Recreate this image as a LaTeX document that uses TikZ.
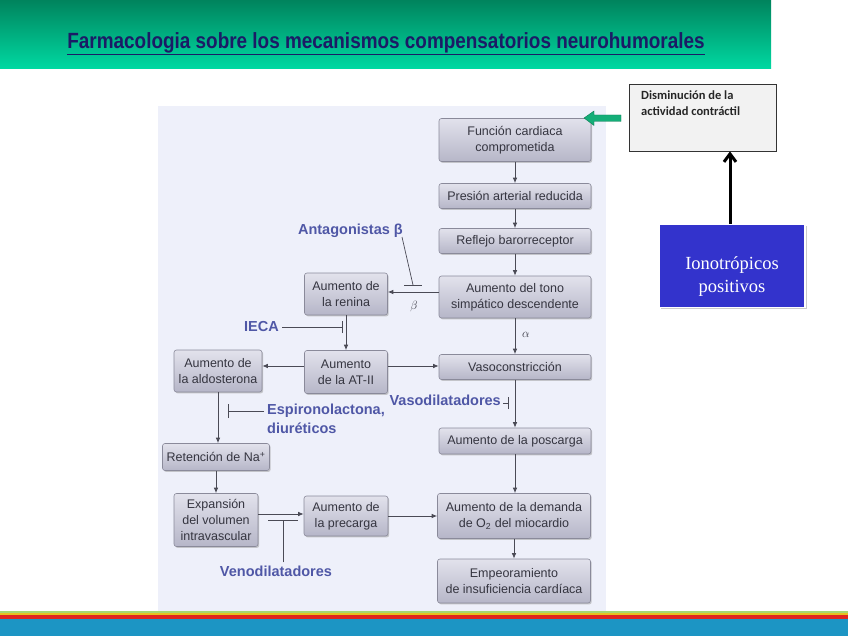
\documentclass[tikz,border=0pt]{standalone}
\usepackage{fontspec}
\setmainfont{Liberation Sans}
\newfontfamily\carl{Carlito}
\newfontfamily\tnr{Liberation Serif}
\usetikzlibrary{arrows.meta,shadows,calc}
\definecolor{titletop}{HTML}{00855E}
\definecolor{titlebot}{HTML}{00D9A2}
\definecolor{titletext}{HTML}{1B1B66}
\definecolor{panel}{HTML}{EEF0FA}
\definecolor{boxtop}{HTML}{E2E2EC}
\definecolor{boxbot}{HTML}{B6B6C8}
\definecolor{boxedge}{HTML}{8A8A9A}
\definecolor{boxtext}{HTML}{353540}
\definecolor{drug}{HTML}{4F57A6}
\definecolor{lineg}{HTML}{4A4A55}
\definecolor{greenarr}{HTML}{14AE78}
\definecolor{ionoblue}{HTML}{3333CC}
\definecolor{stripeblue}{HTML}{1C95C4}
\definecolor{stripered}{HTML}{E0261E}
\definecolor{stripeyel}{HTML}{E8C020}
\definecolor{stripegrn}{HTML}{A8D870}
\begin{document}
\begin{tikzpicture}[x=1pt,y=-1pt,
  box/.style={draw=boxedge, line width=0.6pt, rounded corners=2.5pt,
    top color=boxtop, bottom color=boxbot,
    drop shadow={shadow xshift=1.2pt, shadow yshift=-1.4pt, fill=black!40, opacity=0.5},
    font=\fontsize{12.5}{16}\selectfont, text=boxtext, align=center, inner sep=0pt},
  arr/.style={draw=lineg, line width=0.8pt, -{Latex[length=5.5pt,width=4.5pt]}},
  inh/.style={draw=lineg, line width=0.7pt},
  drugl/.style={font=\fontsize{14.5}{17}\selectfont\bfseries, text=drug, inner sep=0pt},
  greek/.style={font=\fontsize{12}{14}\selectfont, text=boxtext, inner sep=0pt}
]
\useasboundingbox (0,0) rectangle (848,636);
\fill[white] (0,0) rectangle (848,636);
% title bar
\shade[top color=titletop, bottom color=titlebot] (0,1) rectangle (771,69);
\node[font=\fontsize{22}{24}\selectfont\bfseries, text=titletext, xscale=0.86, inner sep=0pt] (title) at (386,44)
  {\underline{Farmacologia sobre los mecanismos compensatorios neurohumorales}};
% bottom stripes
\fill[stripegrn] (0,610.5) rectangle (848,613);
\fill[stripeyel] (0,613) rectangle (848,615);
\fill[stripered] (0,615) rectangle (848,619);
\fill[stripeblue] (0,619) rectangle (848,636);
% panel
\fill[panel] (158,106) rectangle (606,610.5);

% boxes
\node[box, minimum width=152pt, minimum height=43pt] (func) at (515,140) {Función cardiaca\\comprometida};
\node[box, minimum width=152pt, minimum height=25pt] (pres) at (515,196) {Presión arterial reducida};
\node[box, minimum width=152pt, minimum height=25pt] (refl) at (515,241) {Reflejo barorreceptor};
\node[box, minimum width=152pt, minimum height=42pt] (tono) at (515,297) {Aumento del tono\\simpático descendente};
\node[box, minimum width=83pt, minimum height=42pt] (renina) at (346,294) {Aumento de\\la renina};
\node[box, minimum width=83pt, minimum height=43pt] (at2) at (346,372) {Aumento\\de la AT-II};
\node[box, minimum width=88pt, minimum height=42pt] (aldo) at (218,371) {Aumento de\\la aldosterona};
\node[box, minimum width=152pt, minimum height=25pt] (vaso) at (515,367) {Vasoconstricción};
\node[box, minimum width=152pt, minimum height=26pt] (posc) at (515,441) {Aumento de la poscarga};
\node[box, minimum width=107pt, minimum height=27pt] (ret) at (216,457) {Retención de Na\textsuperscript{+}};
\node[box, minimum width=84pt, minimum height=53pt] (exp) at (216,520) {Expansión\\del volumen\\intravascular};
\node[box, minimum width=84pt, minimum height=40pt] (prec) at (346,516) {Aumento de\\la precarga};
\node[box, minimum width=153pt, minimum height=45pt] (dem) at (514,516) {Aumento de la demanda\\de O\textsubscript{2} del miocardio};
\node[box, minimum width=153pt, minimum height=44pt] (emp) at (514,581) {Empeoramiento\\de insuficiencia cardíaca};

% main arrows
\draw[arr] (func) -- (pres);
\draw[arr] (pres) -- (refl);
\draw[arr] (refl) -- (tono);
\draw[arr] (tono) -- (vaso);
\draw[arr] (vaso) -- (posc);
\draw[arr] (posc.south) -- (posc.south |- dem.north);
\draw[arr] (dem) -- (emp);
\draw[arr] ([yshift=2pt]tono.west |- renina.east) -- ([yshift=2pt]renina.east);
\draw[arr] (renina) -- (at2);
\draw[arr] ([yshift=6pt]at2.west) -- ([yshift=6pt]aldo.east |- at2.west);
\draw[arr] ([yshift=6pt]at2.east) -- ([yshift=6pt]vaso.west |- at2.east);
\draw[arr] (aldo.south) -- (aldo.south |- ret.north);
\draw[arr] (ret) -- (exp);
\draw[arr] ([yshift=6pt]exp.east) -- ([yshift=6pt]prec.west |- exp.east);
\draw[arr] (prec.east) -- (prec.east -| dem.west);

% greek labels
\node[greek] (beta) at (414,306) {$\beta$};
\node[greek] (alpha) at (526,335) {$\alpha$};

% drug labels and inhibitions
\node[drugl, anchor=east] (antb) at (403,231) {Antagonistas β};
\coordinate (tb) at (413,285);
\draw[inh] (402,237) -- (tb);
\draw[inh] ([xshift=-9pt]tb) -- ([xshift=9pt]tb);

\node[drugl, anchor=east] (ieca) at (279,327) {IECA};
\coordinate (ib) at (342,327);
\draw[inh] ([xshift=3pt]ieca.east) -- (ib);
\draw[inh] ([yshift=-6pt]ib) -- ([yshift=6pt]ib);

\node[drugl, anchor=north west, align=left, font=\fontsize{14.5}{19}\selectfont\bfseries] (espiro) at (267,404) {Espironolactona,\\diuréticos};
\coordinate (eb) at (228,411);
\draw[inh] ([xshift=-3pt]espiro.west |- eb) -- (eb);
\draw[inh] ([yshift=-7pt]eb) -- ([yshift=7pt]eb);

\node[drugl, anchor=east] (vasod) at (501,400) {Vasodilatadores};
\coordinate (vb) at (508,403);
\draw[inh] ([xshift=2pt]vasod.east |- vb) -- (vb);
\draw[inh] ([yshift=-6pt]vb) -- ([yshift=6pt]vb);

\node[drugl] (venod) at (276,571) {Venodilatadores};
\coordinate (nb) at (283,520);
\draw[inh] ([yshift=3pt]venod.north -| nb) -- (nb);
\draw[inh] ([xshift=-15pt]nb) -- ([xshift=15pt]nb);

% green arrow
\fill[greenarr, draw=greenarr!70!black, line width=0.4pt]
  (584,118) -- (594,111) -- (594,115) -- (621,115) -- (621,121.5) -- (594,121.5) -- (594,125.5) -- cycle;

% right side boxes
\node[draw=black!80, line width=0.8pt, fill=black!5, minimum width=147pt, minimum height=67pt, inner sep=0pt] (dism) at (702.5,117.5) {};
\node[anchor=north west, font=\carl\bfseries\fontsize{12.5}{16}\selectfont, align=left, text=black!85, inner sep=0pt] (dismt) at (641,91) {Disminución de la\\actividad contráctil};

\node[fill=ionoblue, draw=white, line width=1.5pt, minimum width=146pt, minimum height=83pt, inner sep=0pt,
  drop shadow={shadow xshift=1.5pt, shadow yshift=-1.5pt, fill=black!40, opacity=0.5}] (iono) at (732,266) {};
\node[font=\tnr\fontsize{18.5}{23}\selectfont, text=white, align=center, inner sep=0pt] (ionot) at (732,277) {Ionotrópicos\\positivos};
\draw[black, line width=3pt, -{Straight Barb[length=8pt,width=12pt,line width=3pt]}] (iono.north -| 730,0) -- (dism.south -| 730,0);
\end{tikzpicture}
\end{document}
